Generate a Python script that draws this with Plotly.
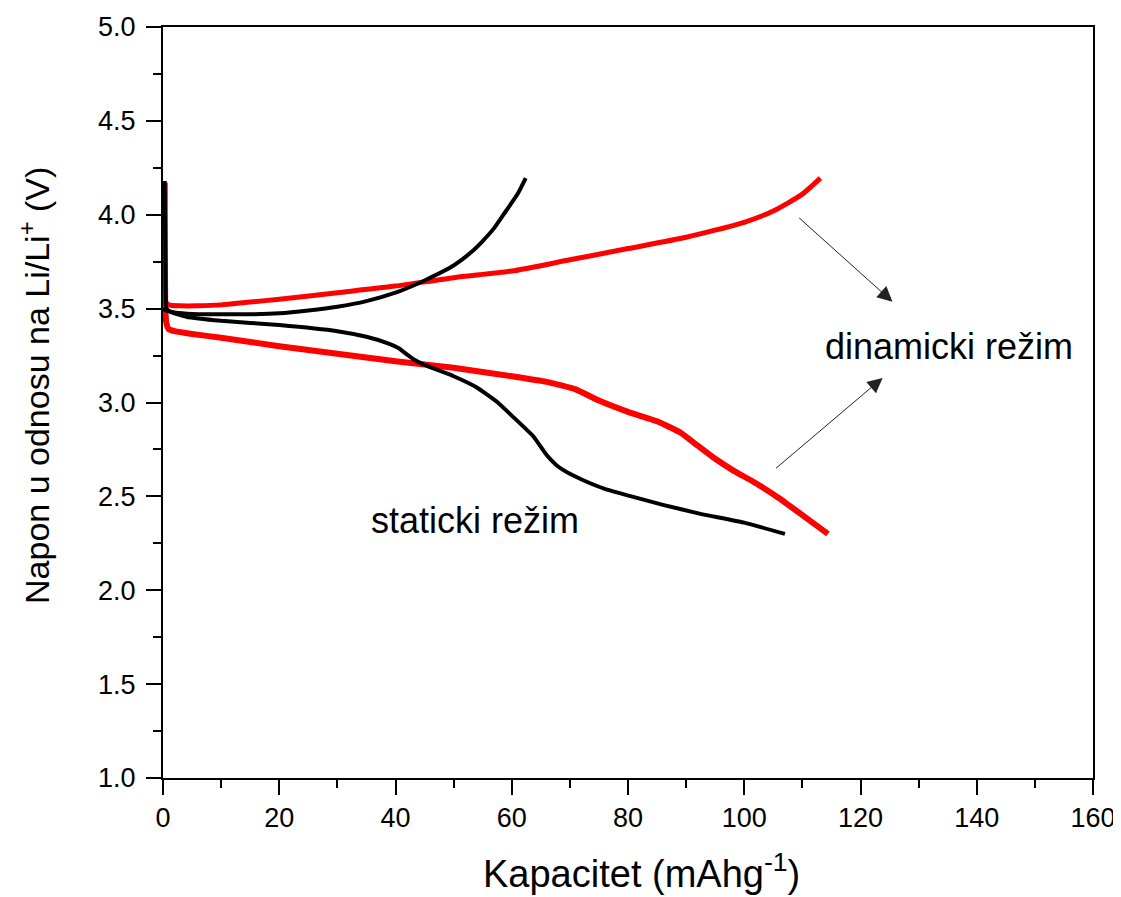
import plotly.graph_objects as go

# ---- data ----
static_charge_x = [0.0, 0.5, 2, 5, 10, 15, 20, 25, 30, 35, 40, 43.3, 45, 50, 53, 55, 57, 59, 61, 62.4]
static_charge_y = [3.50, 3.49, 3.48, 3.472, 3.47, 3.47, 3.475, 3.49, 3.51, 3.54, 3.585, 3.626, 3.65, 3.73, 3.80, 3.86, 3.93, 4.02, 4.11, 4.195]

static_dis_x = [0.3, 0.45, 0.6, 1.5, 4, 10, 20, 30, 35, 38.7, 40.5, 42, 43.3, 45, 50, 54, 57.6, 60, 63.7, 66, 67.7, 70, 72.3, 76, 80.9, 86, 92.3, 100, 107]
static_dis_y = [4.18, 3.60, 3.50, 3.48, 3.457, 3.435, 3.413, 3.38, 3.35, 3.315, 3.29, 3.255, 3.226, 3.20, 3.14, 3.08, 3.00, 2.93, 2.82, 2.72, 2.666, 2.62, 2.586, 2.54, 2.497, 2.455, 2.408, 2.36, 2.30]

dyn_charge_x = [0.3, 1, 3, 6, 10, 15, 20, 30, 40, 50, 60, 70, 80, 90, 100, 105, 110, 113.1]
dyn_charge_y = [3.54, 3.52, 3.515, 3.515, 3.52, 3.535, 3.55, 3.585, 3.62, 3.665, 3.70, 3.76, 3.82, 3.88, 3.96, 4.02, 4.11, 4.195]

dyn_dis_x = [0.3, 0.4, 0.6, 1, 2, 5, 10, 20, 30, 40, 50, 60, 66, 71, 75, 80, 85, 89, 92, 95, 98, 102, 106, 110, 114.4]
dyn_dis_y = [4.17, 3.50, 3.42, 3.39, 3.38, 3.365, 3.345, 3.30, 3.26, 3.22, 3.185, 3.14, 3.11, 3.07, 3.01, 2.95, 2.90, 2.84, 2.77, 2.70, 2.64, 2.57, 2.49, 2.40, 2.30]

x_ticks = [0, 20, 40, 60, 80, 100, 120, 140, 160]
y_ticks = [1.0, 1.5, 2.0, 2.5, 3.0, 3.5, 4.0, 4.5, 5.0]

label_dynamic = "dinamicki režim"
label_static = "staticki režim"
x_title = "Kapacitet (mAhg<sup>-1</sup>)"
y_title = "Napon u odnosu na Li/Li<sup>+</sup> (V)"

FONT = "Liberation Sans, Arial, sans-serif"

fig = go.Figure()
fig.add_trace(go.Scatter(x=dyn_charge_x, y=dyn_charge_y, mode="lines",
                         line=dict(color="#ff0000", width=5, shape="spline", smoothing=0.6),
                         showlegend=False))
fig.add_trace(go.Scatter(x=dyn_dis_x, y=dyn_dis_y, mode="lines",
                         line=dict(color="#ff0000", width=6, shape="spline", smoothing=0.4),
                         showlegend=False))
fig.add_trace(go.Scatter(x=static_charge_x, y=static_charge_y, mode="lines",
                         line=dict(color="#000000", width=4, shape="spline", smoothing=0.6),
                         showlegend=False))
fig.add_trace(go.Scatter(x=static_dis_x, y=static_dis_y, mode="lines",
                         line=dict(color="#000000", width=4, shape="spline", smoothing=0.4),
                         showlegend=False))

# arrows
fig.add_annotation(x=125.5, y=3.537, ax=109.2, ay=3.990, xref="x", yref="y",
                   axref="x", ayref="y", showarrow=True, arrowhead=2, arrowsize=3,
                   arrowwidth=1, arrowcolor="#222222", text="")
fig.add_annotation(x=123.8, y=3.131, ax=105.2, ay=2.643, xref="x", yref="y",
                   axref="x", ayref="y", showarrow=True, arrowhead=2, arrowsize=3,
                   arrowwidth=1, arrowcolor="#222222", text="")

fig.add_annotation(x=135.3, y=3.296, text=label_dynamic, showarrow=False,
                   font=dict(family=FONT, size=36, color="black"),
                   xanchor="center", yanchor="middle")
fig.add_annotation(x=53.6, y=2.372, text=label_static, showarrow=False,
                   font=dict(family=FONT, size=36, color="black"),
                   xanchor="center", yanchor="middle")

# axis titles as annotations for exact placement
fig.add_annotation(xref="paper", yref="paper", x=0.514, y=0, yanchor="top", xanchor="center",
                   yshift=-67, text=x_title, showarrow=False,
                   font=dict(family=FONT, size=38, color="black"))
fig.add_annotation(xref="paper", yref="paper", x=0, y=0.522, xanchor="center", yanchor="middle",
                   xshift=-128, textangle=-90, text=y_title, showarrow=False,
                   font=dict(family=FONT, size=34, color="black"))

fig.update_layout(
    width=1113, height=889,
    margin=dict(l=155, r=28, t=19, b=119, autoexpand=False),
    paper_bgcolor="white", plot_bgcolor="white",
    font=dict(family=FONT, color="black"),
)
fig.update_xaxes(
    range=[0, 160], tickvals=x_ticks, ticktext=[str(v) for v in x_ticks],
    showline=True, linewidth=2, linecolor="black", mirror=True,
    ticks="outside", ticklen=15, tickwidth=2, tickcolor="black",
    minor=dict(ticks="outside", ticklen=8, tickwidth=2, tickcolor="black", dtick=10, showgrid=False),
    showgrid=False, zeroline=False, automargin=False,
    tickfont=dict(family=FONT, size=27, color="black"),
)
fig.update_yaxes(
    range=[1, 5], tickvals=y_ticks, ticktext=[f"{v:.1f}" for v in y_ticks],
    showline=True, linewidth=2, linecolor="black", mirror=True,
    ticks="outside", ticklen=15, tickwidth=2, tickcolor="black",
    minor=dict(ticks="outside", ticklen=8, tickwidth=2, tickcolor="black", dtick=0.25, showgrid=False),
    showgrid=False, zeroline=False, automargin=False, ticklabelstandoff=5,
    tickfont=dict(family=FONT, size=27, color="black"),
)

fig.write_html("out.html")
